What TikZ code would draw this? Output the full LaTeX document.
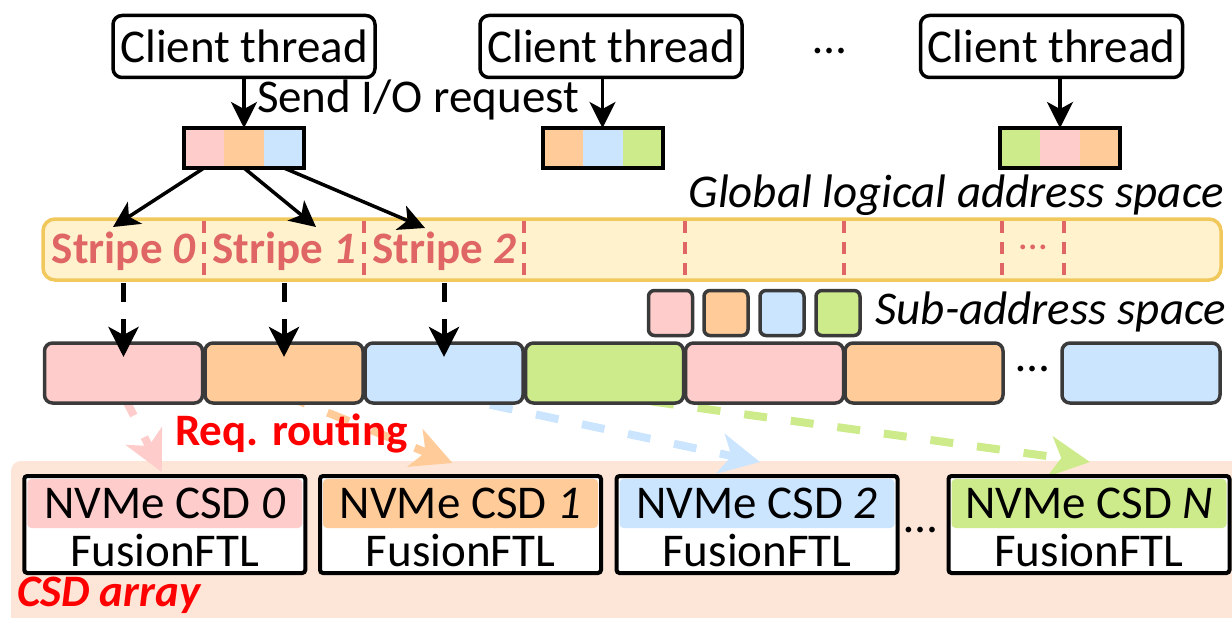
\documentclass[tikz,border=0pt]{standalone}
\usepackage{fontspec}
\setmainfont{Carlito}
\usetikzlibrary{arrows.meta}
\pgfdeclarelayer{back}
\pgfsetlayers{back,main}

\definecolor{cpink}{HTML}{FFCCCC}
\definecolor{corange}{HTML}{FFCC99}
\definecolor{cblue}{HTML}{CCE5FF}
\definecolor{cgreen}{HTML}{CDEB8B}
\definecolor{stripered}{HTML}{E06666}
\definecolor{barfill}{HTML}{FFF2CC}
\definecolor{barline}{HTML}{F0C85C}
\definecolor{arrayfill}{HTML}{FDE6D8}
\definecolor{segline}{HTML}{3A3A3A}
\definecolor{alertred}{HTML}{FF0000}

\begin{document}
\begin{tikzpicture}[x=1pt,y=-1pt,
  every node/.style={inner sep=0pt, outer sep=0pt},
  big/.style={font=\fontsize{47}{56}\selectfont},
  slanted/.style={font=\fontsize{47}{56}\selectfont\itshape},
  thread/.style={big, draw, line width=3.5pt, rounded corners=9pt,
    minimum width=262pt, minimum height=62pt},
  cell/.style={minimum width=40pt, minimum height=40pt},
  reqframe/.style={draw, line width=4pt, minimum width=120pt, minimum height=40pt},
  blackarrow/.style={line width=3.5pt, -{Stealth[length=26pt,width=26pt,inset=7pt]}},
  stripelabel/.style={text=stripered, font=\fontsize{45}{54}\selectfont\bfseries, anchor=base},
  divider/.style={stripered, line width=3.5pt, dash pattern=on 12pt off 9pt},
  subsq/.style={draw=segline, line width=3.5pt, rounded corners=6pt,
    minimum width=44pt, minimum height=45pt},
  seg/.style={draw=segline, line width=3.5pt, rounded corners=8pt,
    minimum width=158pt, minimum height=60pt},
  dasharrow/.style={line width=5pt, dash pattern=on 19pt off 17pt,
    -{Stealth[length=30pt,width=30pt,inset=8pt]}},
  route/.style={line width=8pt, dash pattern=on 23pt off 24pt,
    -{Stealth[length=40pt,width=40pt,inset=11pt]}},
  csd/.style={draw, fill=white, line width=4pt, rounded corners=3pt,
    minimum width=281pt, minimum height=97pt},
  dots/.style={big, anchor=base}
]
\useasboundingbox (0,0) rectangle (1232,618);

% client threads
\node[thread] (ct1) at (244,46.5) {Client thread};
\node[thread] (ct2) at (611,46.5) {Client thread};
\node[thread] (ct3) at (1051.5,46.5) {Client thread};
\node[dots] (ctdots) at (830,54) {…};

% I/O requests
\node[cell, fill=cpink]   (r1a) at (204,148) {};
\node[cell, fill=corange] (r1b) at (244,148) {};
\node[cell, fill=cblue]   (r1c) at (284,148) {};
\node[reqframe] (rq1) at (244,148) {};

\node[cell, fill=corange] (r2a) at (562.5,148) {};
\node[cell, fill=cblue]   (r2b) at (602.5,148) {};
\node[cell, fill=cgreen]  (r2c) at (642.5,148) {};
\node[reqframe] (rq2) at (602.5,148) {};

\node[cell, fill=cgreen]  (r3a) at (1020,148) {};
\node[cell, fill=cpink]   (r3b) at (1060,148) {};
\node[cell, fill=corange] (r3c) at (1100,148) {};
\node[reqframe] (rq3) at (1060,148) {};

\draw[blackarrow] (rq1.north |- ct1.south) -- (rq1.north);
\draw[blackarrow] (rq2.north |- ct2.south) -- (rq2.north);
\draw[blackarrow] (rq3.north |- ct3.south) -- (rq3.north);
\node[big, anchor=base west] (send) at (257,112) {Send I/O request};

% global logical address space
\node[slanted, anchor=base east] (glabel) at (1224,207) {Global logical address space};
\node[draw=barline, fill=barfill, line width=3.5pt, rounded corners=12pt,
  minimum width=1178pt, minimum height=61pt] (bar) at (632,249.5) {};
\foreach \x in {204,364,524,685,844,1002,1064}
  \draw[divider] (\x,221) -- (\x,279);
\node[stripelabel] (s0) at (124,263) {Stripe \textit{0}};
\node[stripelabel] (s1) at (284,263) {Stripe \textit{1}};
\node[stripelabel] (s2) at (444,263) {Stripe \textit{2}};
\node[anchor=base, text=stripered, font=\fontsize{40}{48}\selectfont] (bardots) at (1033,249) {…};

\coordinate (tip0) at (113,227);
\coordinate (tip1) at (316,227);
\coordinate (tip2) at (425,228);
\draw[blackarrow] (r1a.south) -- (tip0);
\draw[blackarrow] (r1b.south) -- (tip1);
\draw[blackarrow] (r1c.south) -- (tip2);

% sub-address spaces
\node[subsq, fill=cpink]   (q1) at (670.5,313) {};
\node[subsq, fill=corange] (q2) at (726,313) {};
\node[subsq, fill=cblue]   (q3) at (782,313) {};
\node[subsq, fill=cgreen]  (q4) at (838,313) {};
\node[slanted, anchor=base east] (sublabel) at (1226,324) {Sub-address space};

\node[seg, fill=cpink]   (sg1) at (123.5,373) {};
\node[seg, fill=corange] (sg2) at (284,373) {};
\node[seg, fill=cblue]   (sg3) at (444,373) {};
\node[seg, fill=cgreen]  (sg4) at (604.5,373) {};
\node[seg, fill=cpink]   (sg5) at (764.5,373) {};
\node[seg, fill=corange] (sg6) at (924,373) {};
\node[seg, fill=cblue]   (sg7) at (1141,373) {};
\node[dots] (sgdots) at (1033,371) {…};

\coordinate (b1) at (sg1.north |- bar.south);
\coordinate (b2) at (sg2.north |- bar.south);
\coordinate (b3) at (sg3.north |- bar.south);
\draw[dasharrow] ([yshift=-3pt]b1) -- ([yshift=-14pt]sg1.north);
\draw[dasharrow] ([yshift=-3pt]b2) -- ([yshift=-14pt]sg2.north);
\draw[dasharrow] ([yshift=-3pt]b3) -- ([yshift=-14pt]sg3.north);

% CSD array
\foreach \nm/\cx/\col in {0/164.75/cpink, 1/460.5/corange, 2/757/cblue, N/1089/cgreen} {
  \node[csd] (csd\nm) at (\cx,524.5) {};
  \fill[\col, rounded corners=4pt] ([shift={(3pt,-3pt)}]csd\nm.north west)
    rectangle ([shift={(-3pt,-3.5pt)}]csd\nm.east);
  \node[big, anchor=base] (name\nm) at ([yshift=6.5pt]csd\nm.center) {NVMe CSD \textit{\nm}};
  \node[big, anchor=base] (ftl\nm) at ([yshift=-41.5pt]csd\nm.center) {FusionFTL};
}
\node[dots] (csddots) at (921,532) {…};
\node[anchor=base west, text=alertred, font=\fontsize{45}{54}\selectfont\bfseries] (routing) at (175,445) {Req. routing};
\node[anchor=base west, text=alertred, font=\fontsize{45}{54}\selectfont\bfseries\itshape] (arraylabel) at (17,606) {CSD array};

\begin{pgfonlayer}{back}
  \fill[arrayfill, rounded corners=10pt] (11,461) rectangle (1260,660);
  \draw[route, cpink]   ([yshift=8pt]sg1.south) -- ([shift={(-3pt,4pt)}]csd0.north);
  \draw[route, corange] ([yshift=8pt]sg2.south) -- ([shift={(-8pt,13pt)}]csd1.north);
  \draw[route, cblue]   ([yshift=8pt]sg3.south) -- ([shift={(3pt,14pt)}]csd2.north);
  \draw[route, cgreen]  ([yshift=8pt]sg4.south) -- ([shift={(1pt,14pt)}]csdN.north);
\end{pgfonlayer}
\end{tikzpicture}
\end{document}
